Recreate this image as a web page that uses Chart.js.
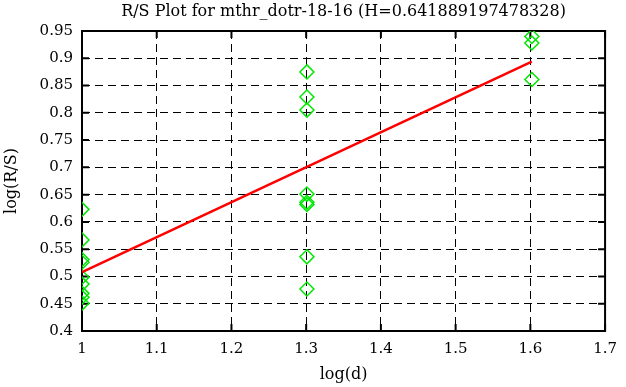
<!DOCTYPE html>
<html>
<head>
<meta charset="utf-8">
<script src="https://cdn.jsdelivr.net/npm/chart.js@4/dist/chart.umd.min.js"></script>
<style>
  html, body { margin: 0; padding: 0; background: #fff; }
  #wrap { width: 626px; height: 387px; }
</style>
</head>
<body>
<div id="wrap"><canvas id="chart"></canvas></div>
<script>
// Data
const logD = [1, 1, 1, 1, 1, 1, 1, 1, 1,
  1.301, 1.301, 1.301, 1.301, 1.301, 1.301, 1.301, 1.301,
  1.602, 1.602, 1.602];
const logRS = [0.623, 0.567, 0.531, 0.526, 0.4985, 0.486, 0.469, 0.462, 0.451,
  0.875, 0.829, 0.805, 0.651, 0.636, 0.632, 0.536, 0.477,
  0.940, 0.928, 0.861];

const fitX = [1, 1.602];
const fitY = [0.508, 0.894];

const xTickLabels = ['1', '1.1', '1.2', '1.3', '1.4', '1.5', '1.6', '1.7'];
const yTickLabels = ['0.4', '0.45', '0.5', '0.55', '0.6', '0.65', '0.7', '0.75', '0.8', '0.85', '0.9', '0.95'];

const titleText = 'R/S Plot for mthr_dotr-18-16 (H=0.641889197478328)';

const SERIF = '"DejaVu Serif", "Liberation Serif", serif';

// Frame, inner tick marks on all four sides, title centred over the plot
const framePlugin = {
  id: 'frame',
  beforeDatasetsDraw(chart) {
    const { ctx, chartArea: a, scales: { x, y } } = chart;
    const len = 7;
    ctx.save();
    ctx.strokeStyle = '#000';
    ctx.lineWidth = 2;
    ctx.strokeRect(a.left, a.top, a.right - a.left, a.bottom - a.top);
    ctx.beginPath();
    x.ticks.forEach(t => {
      const px = x.getPixelForValue(t.value);
      ctx.moveTo(px, a.bottom); ctx.lineTo(px, a.bottom - len);
      ctx.moveTo(px, a.top); ctx.lineTo(px, a.top + len);
    });
    y.ticks.forEach(t => {
      const py = y.getPixelForValue(t.value);
      ctx.moveTo(a.left, py); ctx.lineTo(a.left + len, py);
      ctx.moveTo(a.right, py); ctx.lineTo(a.right - len, py);
    });
    ctx.stroke();

    ctx.fillStyle = '#000';
    ctx.font = '16px ' + SERIF;
    ctx.textAlign = 'center';
    ctx.textBaseline = 'middle';
    ctx.fillText(titleText, (a.left + a.right) / 2, 12);
    ctx.restore();
  }
};

const points = logD.map((d, i) => ({ x: d, y: logRS[i] }));
const fitLine = fitX.map((d, i) => ({ x: d, y: fitY[i] }));

new Chart(document.getElementById('chart'), {
  type: 'scatter',
  data: {
    datasets: [
      {
        label: 'R/S',
        data: points,
        pointStyle: 'rectRot',
        pointRadius: 7,
        pointHoverRadius: 7,
        borderColor: '#00e600',
        backgroundColor: 'rgba(0,0,0,0)',
        borderWidth: 1.5,
        order: 2
      },
      {
        type: 'line',
        label: 'fit',
        data: fitLine,
        borderColor: '#ff0000',
        borderWidth: 2.5,
        pointRadius: 0,
        fill: false,
        order: 1
      }
    ]
  },
  options: {
    responsive: true,
    maintainAspectRatio: false,
    animation: false,
    layout: { padding: { left: 0, right: 16, top: 31, bottom: 0 } },
    plugins: {
      legend: { display: false },
      tooltip: { enabled: false },
      title: { display: false }
    },
    scales: {
      x: {
        type: 'linear',
        min: 1,
        max: 1.7,
        afterFit: s => { s.height = 56; },
        ticks: {
          stepSize: 0.1,
          padding: 9,
          color: '#000',
          font: { family: SERIF, size: 15 },
          callback: (v, i) => xTickLabels[i]
        },
        grid: { color: '#000', lineWidth: 1, drawTicks: false },
        border: { display: false, dash: [8, 5] },
        title: {
          display: true,
          text: 'log(d)',
          color: '#000',
          font: { family: SERIF, size: 16 },
          padding: { top: 0, bottom: 3 }
        }
      },
      y: {
        type: 'linear',
        min: 0.4,
        max: 0.95,
        afterFit: s => { s.width = 82; },
        ticks: {
          stepSize: 0.05,
          padding: 9,
          color: '#000',
          font: { family: SERIF, size: 15 },
          callback: (v, i) => yTickLabels[i]
        },
        grid: { color: '#000', lineWidth: 1, drawTicks: false },
        border: { display: false, dash: [8, 5] },
        title: {
          display: true,
          text: 'log(R/S)',
          color: '#000',
          font: { family: SERIF, size: 16 },
          padding: { top: 2, bottom: 0 }
        }
      }
    }
  },
  plugins: [framePlugin]
});
</script>
</body>
</html>
